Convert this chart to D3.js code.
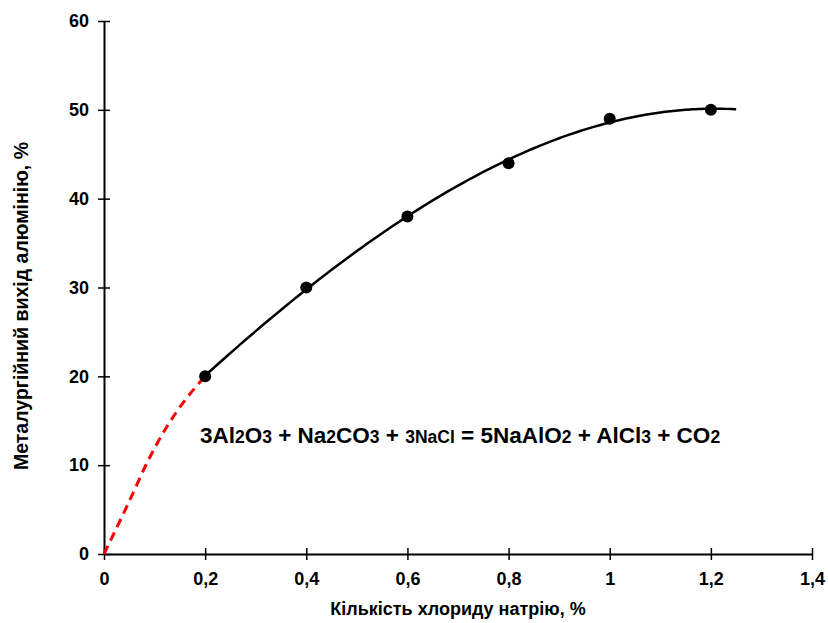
<!DOCTYPE html>
<html>
<head>
<meta charset="utf-8">
<script src="https://cdn.jsdelivr.net/npm/d3@7"></script>
<style>
  body { margin: 0; background: #fff; }
  text { font-family: "Liberation Sans", Arial, sans-serif; font-weight: bold; fill: #000; }
</style>
</head>
<body>
<div id="chart"></div>
<script>
// measured points
const naclAmount = [0.2, 0.4, 0.6, 0.8, 1.0, 1.2];
const alYield = [20, 30, 38, 44, 49, 50];

// red dashed extrapolation to origin
const dashX = [0, 0.048, 0.088, 0.124, 0.16, 0.2];
const dashY = [0, 5.7, 10.6, 14.3, 17.3, 20];

const xTicks = [0, 0.2, 0.4, 0.6, 0.8, 1, 1.2, 1.4];
const yTicks = [0, 10, 20, 30, 40, 50, 60];
const trendEnd = 1.25;

const width = 828, height = 623;
const x = d3.scaleLinear().domain([0, 1.4]).range([104, 812]);
const y = d3.scaleLinear().domain([0, 60]).range([554, 21]);

const svg = d3.select("#chart").append("svg")
    .attr("width", width).attr("height", height);

// polynomial trendline (least squares, degree 3) from the measured points
function polyFit(xs, ys, deg) {
    const n = deg + 1;
    const A = [];
    for (let i = 0; i < n; i++) {
        A.push([]);
        for (let j = 0; j < n; j++) A[i].push(d3.sum(xs, v => Math.pow(v, i + j)));
        A[i].push(d3.sum(xs, (v, k) => Math.pow(v, i) * ys[k]));
    }
    for (let i = 0; i < n; i++) {
        let p = i;
        for (let r = i + 1; r < n; r++) if (Math.abs(A[r][i]) > Math.abs(A[p][i])) p = r;
        [A[i], A[p]] = [A[p], A[i]];
        for (let r = 0; r < n; r++) {
            if (r === i) continue;
            const f = A[r][i] / A[i][i];
            for (let c = i; c <= n; c++) A[r][c] -= f * A[i][c];
        }
    }
    return A.map((row, i) => row[n] / row[i]);
}
const coef = polyFit(naclAmount, alYield, 3);
const trend = v => coef.reduce((s, c, i) => s + c * Math.pow(v, i), 0);
const trendPts = d3.range(0.2, trendEnd + 0.0001, 0.01).map(v => [v, trend(v)]);

// axes
const xAxis = svg.append("g").attr("transform", `translate(0,${y(0)})`)
    .call(d3.axisBottom(x).tickValues(xTicks).tickSizeInner(6).tickSizeOuter(0)
        .tickFormat(d => String(d).replace(".", ",")));
xAxis.selectAll(".tick line").attr("y1", -6).attr("y2", 6);
xAxis.selectAll("text").attr("y", 18).style("font-size", "18px");

const yAxis = svg.append("g").attr("transform", `translate(${x(0)},0)`)
    .call(d3.axisLeft(y).tickValues(yTicks).tickSizeInner(6).tickSizeOuter(0));
yAxis.selectAll(".tick line").attr("x1", -6).attr("x2", 6);
yAxis.selectAll("text").attr("x", -15).style("font-size", "18px");

svg.selectAll(".domain").attr("stroke", "#000").attr("stroke-width", 2);
svg.selectAll(".tick line").attr("stroke", "#000").attr("stroke-width", 1.5);

// dashed red part
svg.append("path")
    .attr("d", d3.line().x(d => x(d[0])).y(d => y(d[1])).curve(d3.curveMonotoneX)(dashX.map((v, i) => [v, dashY[i]])))
    .attr("fill", "none").attr("stroke", "#ff0000").attr("stroke-width", 3)
    .attr("stroke-dasharray", "9,6");

// trend curve
svg.append("path")
    .attr("d", d3.line().x(d => x(d[0])).y(d => y(d[1])).curve(d3.curveBasis)(trendPts))
    .attr("fill", "none").attr("stroke", "#000").attr("stroke-width", 2.5);

// points
svg.selectAll("circle.pt").data(naclAmount).enter().append("circle")
    .attr("class", "pt")
    .attr("cx", d => x(d)).attr("cy", (d, i) => y(alYield[i])).attr("r", 6)
    .attr("fill", "#000");

// axis titles
svg.append("text").attr("x", 458).attr("y", 615).attr("text-anchor", "middle")
    .style("font-size", "18px").text("Кількість хлориду натрію, %");
svg.append("text").attr("transform", "translate(28,306) rotate(-90)").attr("text-anchor", "middle")
    .style("font-size", "19.5px").text("Металургійний вихід алюмінію, %");

// reaction equation
const eq = svg.append("text").attr("x", 460).attr("y", 443).attr("text-anchor", "middle")
    .style("font-size", "22.5px");
const parts = [
    ["3Al", 22.5], ["2", 17.5], ["O", 22.5], ["3", 17.5], [" + Na", 22.5], ["2", 17.5], ["CO", 22.5], ["3", 17.5],
    [" + ", 22.5], ["3NaCl", 17.5], [" = 5NaAlO", 22.5], ["2", 17.5], [" + AlCl", 22.5], ["3", 17.5],
    [" + CO", 22.5], ["2", 17.5]
];
parts.forEach(p => eq.append("tspan").style("font-size", p[1] + "px").text(p[0]));
</script>
</body>
</html>
